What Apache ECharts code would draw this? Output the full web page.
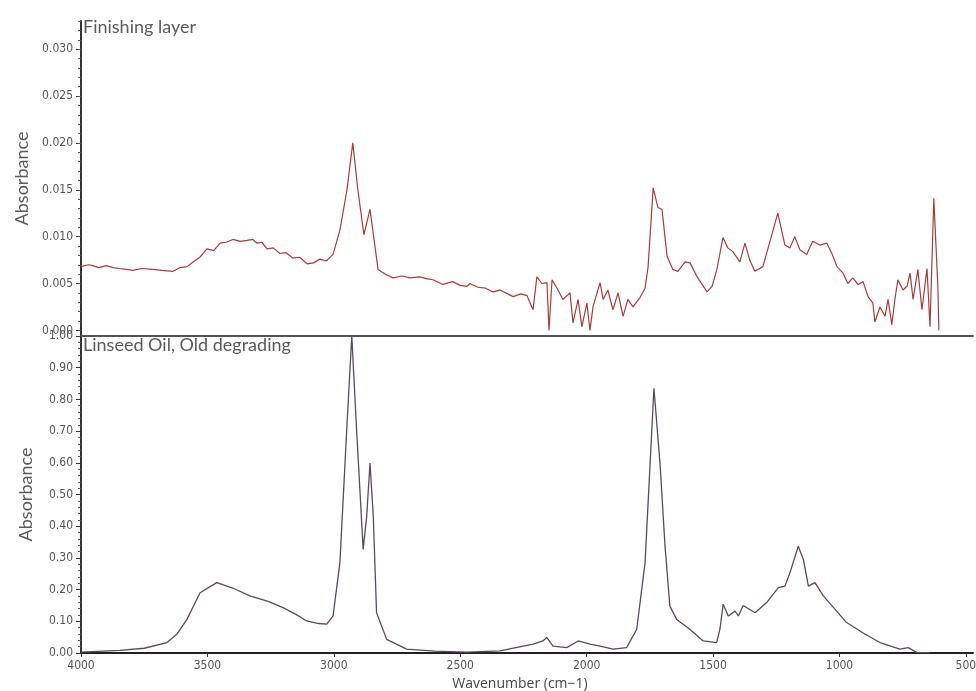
<!DOCTYPE html>
<html>
<head>
<meta charset="utf-8">
<script src="https://cdn.jsdelivr.net/npm/echarts@6/dist/echarts.min.js"></script>
<style>html,body{margin:0;padding:0;background:#fff;}#c{width:976px;height:691px;}</style>
</head>
<body>
<div id="c"></div>
<script>
// Finishing layer (top panel)
var topWavenumber = [
  4000,3970,3953,3930,3900,3873,3850,3820,3794,3760,
  3715,3680,3636,3608,3580,3557,3530,3502,3475,3450,
  3425,3399,3370,3343,3320,3304,3285,3264,3240,3213,
  3190,3162,3135,3106,3080,3055,3030,3003,2976,2948,
  2925,2905,2881,2857,2840,2825,2791,2766,2730,2699,
  2660,2630,2608,2568,2530,2500,2473,2462,2430,2400,
  2371,2343,2320,2291,2260,2236,2212,2197,2177,2157,
  2149,2137,2117,2094,2066,2054,2034,2019,1999,1987,
  1975,1947,1935,1916,1896,1876,1856,1837,1817,1789,
  1769,1757,1737,1718,1702,1682,1659,1639,1611,1591,
  1563,1524,1504,1485,1461,1442,1422,1394,1374,1355,
  1335,1303,1275,1244,1216,1196,1177,1157,1130,1106,
  1078,1050,1030,1010,986,967,947,927,907,887,
  868,860,840,820,808,793,781,769,749,733,
  721,709,690,674,654,642,627,611,607
];
var topAbsorbance = [
  0.0068,0.0070,0.0069,0.0067,0.0069,0.0067,0.0066,0.0065,0.0064,0.0066,
  0.0065,0.0064,0.0063,0.0067,0.0068,0.0073,0.0078,0.0087,0.0085,0.0093,
  0.0094,0.0097,0.0095,0.0096,0.0097,0.0093,0.0094,0.0087,0.0088,0.0082,
  0.0083,0.0077,0.0078,0.0071,0.0072,0.0076,0.0074,0.0081,0.0107,0.0150,
  0.0200,0.0150,0.0102,0.0129,0.0095,0.0065,0.0059,0.0056,0.0058,0.0056,
  0.0057,0.0055,0.0054,0.0049,0.0052,0.0048,0.0047,0.0050,0.0046,0.0045,
  0.0041,0.0043,0.0040,0.0036,0.0039,0.0037,0.0022,0.0057,0.0050,0.0051,
  0.0000,0.0054,0.0045,0.0033,0.0040,0.0008,0.0033,0.0004,0.0029,0.0000,
  0.0025,0.0051,0.0033,0.0043,0.0022,0.0040,0.0015,0.0033,0.0025,0.0035,
  0.0045,0.0068,0.0152,0.0131,0.0129,0.0079,0.0065,0.0063,0.0073,0.0072,
  0.0057,0.0041,0.0047,0.0065,0.0099,0.0088,0.0084,0.0073,0.0093,0.0075,
  0.0063,0.0068,0.0095,0.0125,0.0091,0.0088,0.0100,0.0086,0.0081,0.0095,
  0.0091,0.0093,0.0082,0.0068,0.0061,0.0050,0.0056,0.0049,0.0052,0.0036,
  0.0029,0.0009,0.0025,0.0015,0.0033,0.0006,0.0033,0.0054,0.0043,0.0047,
  0.0061,0.0033,0.0065,0.0022,0.0066,0.0004,0.0141,0.0047,0.0000
];
// Linseed Oil, Old degrading (bottom panel)
var bottomWavenumber = [
  4000,3846,3750,3660,3620,3581,3529,3463,3400,3332,
  3260,3201,3150,3107,3060,3028,3003,2976,2949,2929,
  2910,2884,2870,2857,2844,2831,2791,2712,2600,2475,
  2343,2212,2173,2158,2133,2079,2033,1987,1947,1895,
  1842,1802,1769,1749,1734,1710,1690,1671,1644,1592,
  1539,1486,1473,1460,1440,1413,1400,1381,1334,1288,
  1242,1216,1196,1163,1143,1123,1097,1064,1020,972,
  900,840,761,728,695,642
];
var bottomAbsorbance = [
  0.003,0.008,0.015,0.033,0.060,0.106,0.190,0.222,0.205,0.180,
  0.163,0.143,0.122,0.101,0.093,0.091,0.117,0.285,0.704,1.000,
  0.704,0.327,0.431,0.599,0.431,0.127,0.043,0.012,0.006,0.003,
  0.007,0.028,0.038,0.049,0.022,0.017,0.038,0.028,0.022,0.012,
  0.017,0.075,0.285,0.599,0.835,0.599,0.337,0.148,0.106,0.075,
  0.038,0.033,0.075,0.154,0.117,0.132,0.117,0.150,0.127,0.159,
  0.206,0.211,0.253,0.337,0.295,0.211,0.222,0.180,0.140,0.096,
  0.060,0.033,0.012,0.017,0.002,0.001
];
var xTicks = [500, 1000, 1500, 2000, 2500, 3000, 3500, 4000];
var topYTicks = [0, 0.005, 0.010, 0.015, 0.020, 0.025, 0.030];
var topYMinorTicks = [0,0.001,0.002,0.003,0.004,0.005,0.006,0.007,0.008,0.009,0.010,
  0.011,0.012,0.013,0.014,0.015,0.016,0.017,0.018,0.019,0.020,
  0.021,0.022,0.023,0.024,0.025,0.026,0.027,0.028,0.029,0.030,0.031,0.032,0.033];
var topTitle = 'Finishing layer';
var bottomTitle = 'Linseed Oil, Old degrading';

function zip(a, b) { return a.map(function (v, i) { return [v, b[i]]; }); }

var labelFont = "'Liberation Sans Narrow','DejaVu Sans Condensed',sans-serif";
var textFont = "Lato,'Open Sans',sans-serif";
var topYMin = -0.0006, topYMax = 0.033;
var xMin = 472, xMax = 4000;
var gridLeft = 81, gridRight = 3;
var gridWidth = 976 - gridLeft - gridRight;
var chart = echarts.init(document.getElementById('c'), null, {renderer: 'canvas'});
chart.setOption({
  animation: false,
  backgroundColor: '#fff',
  title: [
    {text: topTitle, left: 83, top: 18, padding: 0,
     textStyle: {fontFamily: textFont, fontSize: 18, fontWeight: 'normal', color: '#5a5a5a'}},
    {text: bottomTitle, left: 83, top: 336, padding: 0,
     textStyle: {fontFamily: textFont, fontSize: 18, fontWeight: 'normal', color: '#5a5a5a'}}
  ],
  grid: [
    {left: gridLeft, right: gridRight, top: 21, bottom: 355, outerBoundsMode: 'none', containLabel: false},
    {left: gridLeft, right: gridRight, top: 336, bottom: 38, outerBoundsMode: 'none', containLabel: false}
  ],
  xAxis: [
    {gridIndex: 0, type: 'value', inverse: true, min: xMin, max: xMax,
     axisLine: {show: true, onZero: false, lineStyle: {color: '#555', width: 2}},
     axisTick: {show: false}, axisLabel: {show: false}, splitLine: {show: false}},
    {gridIndex: 1, type: 'value', inverse: true, min: xMin, max: xMax,
     name: 'Wavenumber (cm\u22121)', nameLocation: 'middle', nameGap: 24,
     nameTextStyle: {fontFamily: "'Open Sans',sans-serif", fontSize: 14, color: '#444', padding: [0, 14, 0, 0]},
     axisLine: {show: true, onZero: false, lineStyle: {color: '#222', width: 2}},
     axisTick: {show: true, length: 4, customValues: xTicks, lineStyle: {color: '#333'}},
     axisLabel: {customValues: xTicks, fontFamily: labelFont, fontSize: 12, color: '#555', margin: 7,
       formatter: function (v) { return String(Math.round(v)); }},
     splitLine: {show: false}}
  ],
  yAxis: [
    {gridIndex: 0, type: 'value', min: topYMin, max: topYMax,
     name: 'Absorbance', nameLocation: 'middle', nameGap: 41,
     nameTextStyle: {fontFamily: textFont, fontSize: 18, color: '#5a5a5a'},
     axisLine: {show: true, onZero: false, lineStyle: {color: '#333', width: 2}},
     axisTick: {show: true, length: 5, customValues: topYTicks, lineStyle: {color: '#333'}},
     axisLabel: {customValues: topYTicks, fontFamily: labelFont, fontSize: 12, color: '#555', margin: 8,
       formatter: function (v) { return (+v).toFixed(3); }},
     splitLine: {show: false}},
    {gridIndex: 1, type: 'value', min: 0, max: 1.0, interval: 0.1,
     name: 'Absorbance', nameLocation: 'middle', nameGap: 46,
     nameTextStyle: {fontFamily: textFont, fontSize: 18, color: '#5a5a5a'},
     axisLine: {show: true, onZero: false, lineStyle: {color: '#333', width: 2}},
     axisTick: {show: true, length: 5, lineStyle: {color: '#333'}},
     minorTick: {show: true, splitNumber: 5, length: 3, lineStyle: {color: '#555'}},
     axisLabel: {fontFamily: labelFont, fontSize: 12, color: '#555', margin: 8,
       formatter: function (v) { return v.toFixed(2); }},
     splitLine: {show: false}},
    {gridIndex: 0, type: 'value', position: 'right', offset: -gridWidth, min: topYMin, max: topYMax,
     axisLine: {show: false},
     axisTick: {show: true, inside: true, length: 3, customValues: topYMinorTicks, lineStyle: {color: '#555'}},
     axisLabel: {show: false}, splitLine: {show: false}}
  ],
  series: [
    {type: 'line', xAxisIndex: 0, yAxisIndex: 0, data: zip(topWavenumber, topAbsorbance),
     showSymbol: false, lineStyle: {color: '#a83c3c', width: 1.2}},
    {type: 'line', xAxisIndex: 1, yAxisIndex: 1, data: zip(bottomWavenumber, bottomAbsorbance),
     showSymbol: false, lineStyle: {color: '#5a4a5e', width: 1.3}}
  ]
});
</script>
</body>
</html>
